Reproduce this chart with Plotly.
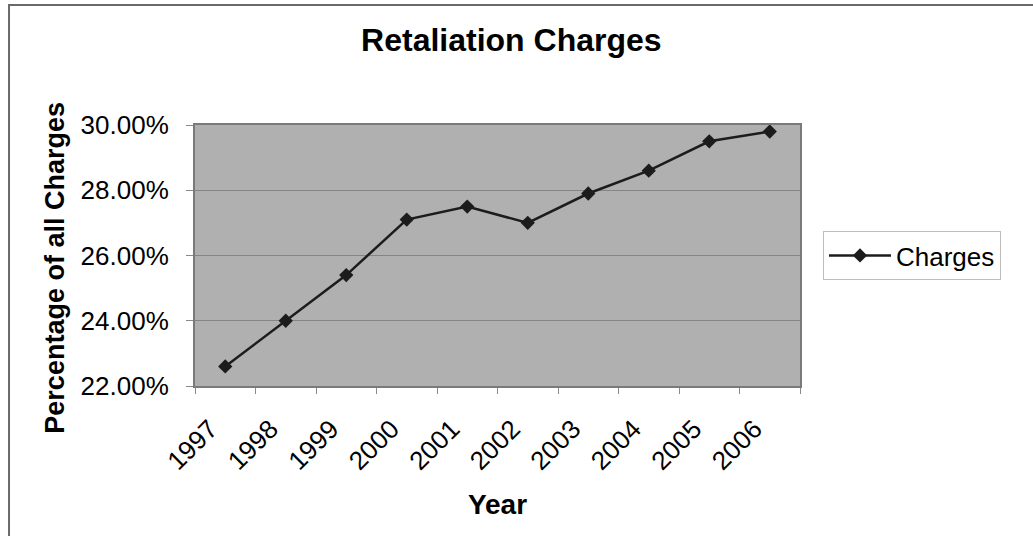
import plotly.graph_objects as go

years = ["1997", "1998", "1999", "2000", "2001", "2002", "2003", "2004", "2005", "2006"]
charges = [0.226, 0.240, 0.254, 0.271, 0.275, 0.270, 0.279, 0.286, 0.295, 0.298]
y_ticks = [0.22, 0.24, 0.26, 0.28, 0.30]

FONT = "Arial, Liberation Sans, sans-serif"
NB = "\u00a0" * 3

fig = go.Figure()
fig.add_trace(go.Scatter(
    x=years, y=charges, mode="lines+markers", name="Charges",
    line=dict(color="#1c1c1c", width=2.5),
    marker=dict(symbol="diamond", size=11, color="#1c1c1c"),
))

fig.update_layout(
    width=1033, height=536,
    margin=dict(l=195, r=233, t=125, b=150),
    paper_bgcolor="white",
    plot_bgcolor="#B0B0B0",
    font=dict(family=FONT, color="black", size=26),
    title=dict(text="<b>Retaliation Charges</b>", x=0.495, xanchor="center",
               y=0.925, yanchor="middle", font=dict(size=32, family=FONT)),
    legend=dict(x=1.038, xanchor="left", y=0.5, yanchor="middle",
                bordercolor="#BDBDBD", borderwidth=1, bgcolor="white",
                itemwidth=62,
                font=dict(size=26, family=FONT)),
    showlegend=True,
    shapes=[dict(type="rect", xref="paper", yref="paper",
                 x0=-0.3074, x1=2.0, y0=-1.0, y1=1.4598,
                 line=dict(color="#6a6a6a", width=2), fillcolor="rgba(0,0,0,0)",
                 layer="below")],
    annotations=[dict(text="<b>Percentage of all Charges</b>", textangle=-90,
                      xref="paper", yref="paper", x=-0.232, y=0.452,
                      xanchor="center", yanchor="middle", showarrow=False,
                      font=dict(size=27, family=FONT))],
)

fig.update_xaxes(
    type="category", range=[-0.5, 9.5], tickangle=-45,
    tickvals=years, ticktext=[y + NB for y in years],
    tickson="boundaries", ticks="outside", ticklen=6, tickcolor="#8a8a8a",
    ticklabelstandoff=0,
    showgrid=False, showline=True, linecolor="#7a7a7a", linewidth=2, mirror=True,
    title=dict(text="<b>Year</b>", font=dict(size=28, family=FONT), standoff=20),
    tickfont=dict(size=26, family=FONT),
)
fig.update_yaxes(
    range=[0.22, 0.30], tickvals=y_ticks, tickformat=".2%",
    ticks="outside", ticklen=7, tickcolor="#8a8a8a",
    ticklabelstandoff=12,
    showgrid=True, gridcolor="#858585", gridwidth=1,
    showline=True, linecolor="#7a7a7a", linewidth=2, mirror=True,
    zeroline=False,
    tickfont=dict(size=26, family=FONT),
)

fig.write_html("out.html")
